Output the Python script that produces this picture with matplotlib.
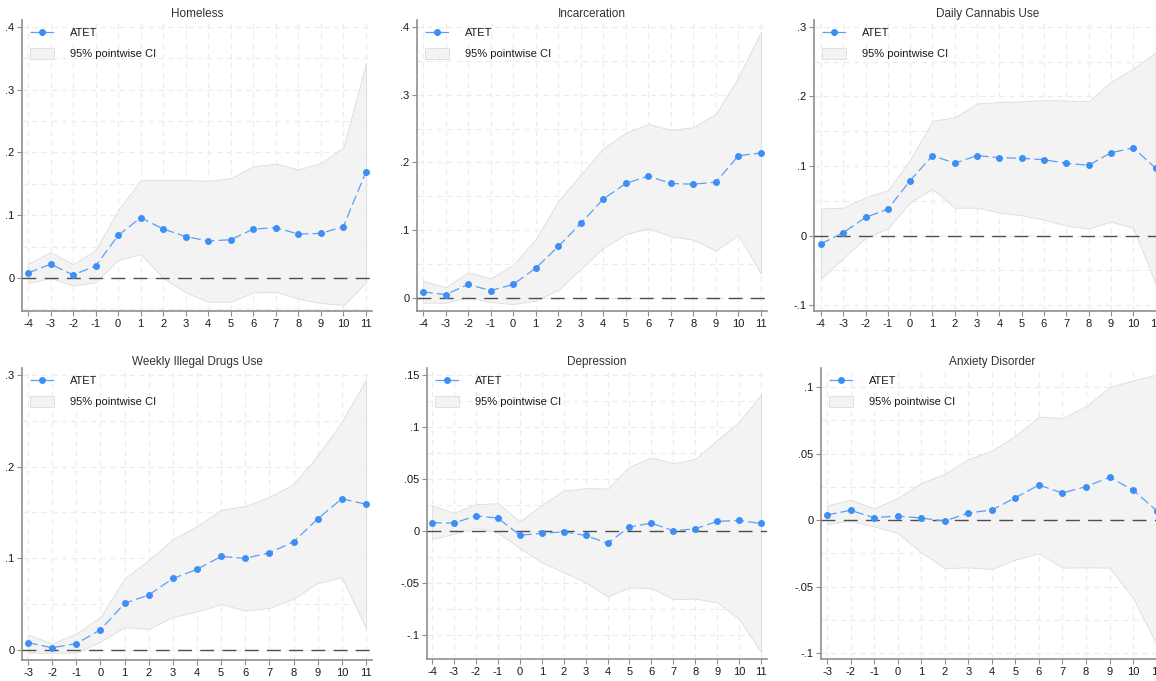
import matplotlib
matplotlib.use("Agg")
import matplotlib.pyplot as plt
from matplotlib.lines import Line2D
from matplotlib.patches import Patch
from matplotlib.ticker import FixedLocator, FuncFormatter, MultipleLocator

plt.rcParams['font.family'] = ['Liberation Sans', 'DejaVu Sans']
plt.rcParams['lines.scale_dashes'] = False
plt.rcParams['axes.unicode_minus'] = False

# ---------------- data ----------------
titles = ["Homeless", "Incarceration", "Daily Cannabis Use",
          "Weekly Illegal Drugs Use", "Depression", "Anxiety Disorder"]

x_h = list(range(-4, 12))
atet_h = [0.008, 0.022, 0.005, 0.019, 0.068, 0.096, 0.078, 0.066, 0.059, 0.061, 0.078, 0.080, 0.070, 0.071, 0.082, 0.169]
hi_h = [0.023, 0.041, 0.022, 0.045, 0.108, 0.156, 0.156, 0.156, 0.155, 0.159, 0.178, 0.182, 0.173, 0.183, 0.208, 0.342]
lo_h = [-0.008, 0.000, -0.012, -0.007, 0.029, 0.038, 0.000, -0.023, -0.038, -0.038, -0.023, -0.022, -0.033, -0.040, -0.043, -0.007]

x_i = list(range(-4, 12))
atet_i = [0.009, 0.005, 0.020, 0.011, 0.020, 0.044, 0.076, 0.110, 0.146, 0.169, 0.180, 0.169, 0.168, 0.171, 0.210, 0.214]
hi_i = [0.025, 0.016, 0.038, 0.029, 0.049, 0.087, 0.143, 0.182, 0.221, 0.244, 0.257, 0.248, 0.252, 0.272, 0.326, 0.393]
lo_i = [-0.007, -0.007, 0.001, -0.006, -0.009, -0.004, 0.012, 0.043, 0.074, 0.094, 0.103, 0.091, 0.086, 0.070, 0.093, 0.036]

x_c = list(range(-4, 12))
atet_c = [-0.012, 0.004, 0.026, 0.038, 0.079, 0.115, 0.104, 0.115, 0.112, 0.111, 0.109, 0.104, 0.101, 0.119, 0.126, 0.097]
hi_c = [0.039, 0.040, 0.055, 0.065, 0.109, 0.165, 0.170, 0.190, 0.192, 0.193, 0.195, 0.194, 0.193, 0.221, 0.240, 0.263]
lo_c = [-0.062, -0.033, -0.003, 0.010, 0.048, 0.067, 0.040, 0.040, 0.033, 0.029, 0.023, 0.014, 0.010, 0.020, 0.011, -0.069]

x_w = list(range(-3, 12))
atet_w = [0.008, 0.0025, 0.007, 0.022, 0.051, 0.060, 0.078, 0.088, 0.102, 0.100, 0.106, 0.118, 0.143, 0.165, 0.159]
hi_w = [0.017, 0.007, 0.018, 0.036, 0.078, 0.098, 0.121, 0.135, 0.153, 0.157, 0.167, 0.181, 0.212, 0.249, 0.295]
lo_w = [-0.003, -0.003, -0.003, 0.009, 0.025, 0.023, 0.036, 0.042, 0.050, 0.043, 0.046, 0.056, 0.073, 0.079, 0.024]

x_d = list(range(-4, 12))
atet_d = [0.0080, 0.0075, 0.0146, 0.0124, -0.0040, -0.0024, -0.0008, -0.0043, -0.0117, 0.0037, 0.0076, 0.0002, 0.0021, 0.0092, 0.0101, 0.0072]
hi_d = [0.0245, 0.0175, 0.0258, 0.0267, 0.0092, 0.0252, 0.0389, 0.0412, 0.0408, 0.0620, 0.0706, 0.0652, 0.0693, 0.0876, 0.1050, 0.1314]
lo_d = [-0.0078, -0.0027, 0.0034, -0.0014, -0.0165, -0.0302, -0.0398, -0.0494, -0.0630, -0.0543, -0.0549, -0.0655, -0.0651, -0.0687, -0.0847, -0.1167]

x_a = list(range(-3, 12))
atet_a = [0.0038, 0.0073, 0.0018, 0.0030, 0.0015, -0.0008, 0.0053, 0.0075, 0.0168, 0.0263, 0.0203, 0.0251, 0.0321, 0.0226, 0.0070]
hi_a = [0.0110, 0.0153, 0.0088, 0.0165, 0.0278, 0.0348, 0.0459, 0.0521, 0.0634, 0.0777, 0.0767, 0.0855, 0.1000, 0.1050, 0.1093]
lo_a = [-0.0030, -0.0005, -0.0048, -0.0098, -0.0243, -0.0361, -0.0356, -0.0368, -0.0298, -0.0251, -0.0358, -0.0356, -0.0358, -0.0586, -0.0937]

yticks_list = [
    [0, 0.1, 0.2, 0.3, 0.4],
    [0, 0.1, 0.2, 0.3, 0.4],
    [-0.1, 0, 0.1, 0.2, 0.3],
    [0, 0.1, 0.2, 0.3],
    [-0.1, -0.05, 0, 0.05, 0.1, 0.15],
    [-0.1, -0.05, 0, 0.05, 0.1],
]

series = [
    (x_h, atet_h, lo_h, hi_h),
    (x_i, atet_i, lo_i, hi_i),
    (x_c, atet_c, lo_c, hi_c),
    (x_w, atet_w, lo_w, hi_w),
    (x_d, atet_d, lo_d, hi_d),
    (x_a, atet_a, lo_a, hi_a),
]

# ---------------- layout (pixel rects: left, top, right, bottom) ----------------
W, H = 1156, 681
rects = [
    (22, 20, 372, 311),
    (417, 20, 767, 311),
    (814, 20, 1162, 311),
    (22, 368, 372, 660),
    (427, 368, 767, 659),
    (821, 368, 1163, 659),
]
xlims = [(-4.27, 11.27), (-4.27, 11.27), (-4.31, 11.29),
         (-3.25, 11.25), (-4.23, 11.27), (-3.255, 11.27)]
ylims = [(-0.0526, 0.411), (-0.0192, 0.4103), (-0.1086, 0.310),
         (-0.0109, 0.3076), (-0.1231, 0.1567), (-0.1045, 0.1143)]
ysteps = [0.1, 0.1, 0.1, 0.1, 0.05, 0.05]

LINE_C = '#5b9ff4'
MARK_C = '#3d8ef5'
FILL_C = '#f3f3f3'
EDGE_C = '#dcdcdc'
GRID_C = '#ececec'
SPINE_C = '#8f8f8f'
TXT_C = '#1a1a1a'


def fmt(v, pos=None):
    s = ('%.2f' % v).rstrip('0').rstrip('.')
    if s.startswith('0.'):
        s = s[1:]
    elif s.startswith('-0.'):
        s = '-' + s[2:]
    if s in ('-0', ''):
        s = '0'
    return s


fig = plt.figure(figsize=(W / 100, H / 100), dpi=100)
fig.patch.set_facecolor('white')

for k in range(6):
    x0, y0, x1, y1 = rects[k]
    ax = fig.add_axes([x0 / W, 1 - y1 / H, (x1 - x0) / W, (y1 - y0) / H])
    xs, atet, lo, hi = series[k]

    ax.set_xlim(*xlims[k])
    ax.set_ylim(*ylims[k])

    # grid
    ax.xaxis.set_major_locator(FixedLocator(xs))
    ax.yaxis.set_major_locator(FixedLocator(yticks_list[k]))
    ax.yaxis.set_minor_locator(MultipleLocator(ysteps[k] / 2))
    ax.grid(True, which='both', axis='y', color=GRID_C, lw=0.8, dashes=(4, 3))
    ax.grid(True, which='major', axis='x', color=GRID_C, lw=0.8, dashes=(4, 3))
    ax.tick_params(axis='y', which='minor', length=0)
    ax.set_axisbelow(True)

    ax.fill_between(xs, lo, hi, facecolor=FILL_C, edgecolor=EDGE_C, lw=0.6, zorder=2)
    ax.axhline(0, color='#4d4d4d', lw=1.0, dashes=(10, 6), zorder=3)
    ax.plot(xs, atet, color=LINE_C, lw=0.9, dashes=(7, 3), zorder=4,
            marker='o', ms=4.0, mfc=MARK_C, mec=MARK_C)

    for s in ('top', 'right'):
        ax.spines[s].set_visible(False)
    for s in ('left', 'bottom'):
        ax.spines[s].set_color(SPINE_C)
        ax.spines[s].set_linewidth(1.2)

    ax.yaxis.set_major_formatter(FuncFormatter(fmt))
    ax.tick_params(axis='both', which='major', length=3.5, width=0.8, color=SPINE_C,
                   labelsize=8, labelcolor=TXT_C, pad=2)

    ax.set_title(titles[k], fontsize=8.5, color='#333333', pad=2.5)

    h_line = Line2D([0], [0], color=LINE_C, lw=0.9, dashes=(7, 3),
                    marker='o', ms=4.0, mfc=MARK_C, mec=MARK_C)
    h_patch = Patch(facecolor=FILL_C, edgecolor=EDGE_C, lw=0.6)
    ax.legend([h_line, h_patch], ['ATET', '95% pointwise CI'],
              loc='upper left', bbox_to_anchor=(8 / (x1 - x0), 1 - 7 / (y1 - y0)),
              frameon=False, fontsize=8, handlelength=2.2, handleheight=1.1,
              handletextpad=1.4, labelspacing=0.9, borderpad=0, borderaxespad=0,
              labelcolor=TXT_C)

fig.savefig('out.png', dpi=100, facecolor='white')
